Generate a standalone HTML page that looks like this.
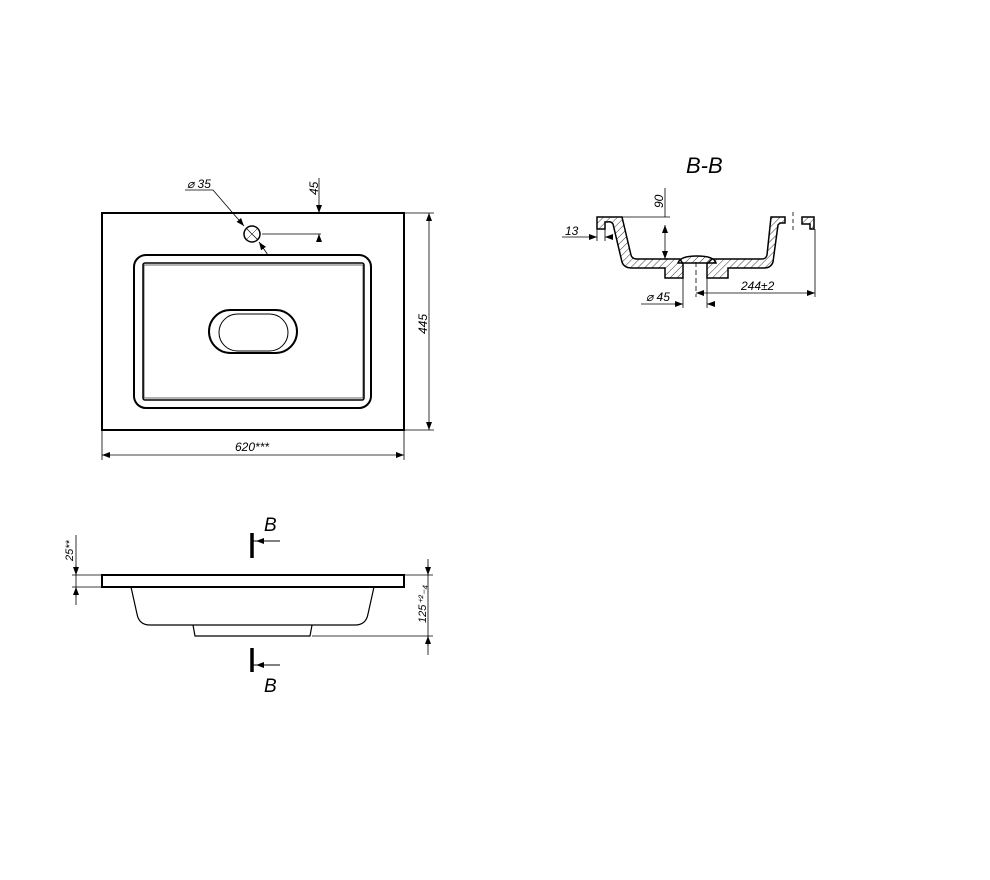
<!DOCTYPE html>
<html><head><style>body{margin:0;background:#fff}svg{display:block}text{font-family:"Liberation Sans",sans-serif;font-style:italic;fill:#000}</style></head><body>
<svg width="990" height="880" viewBox="0 0 990 880" xmlns="http://www.w3.org/2000/svg">
<defs>
<pattern id="h" width="5" height="5" patternUnits="userSpaceOnUse" patternTransform="rotate(45)"><line x1="0" y1="0" x2="0" y2="5" stroke="#000" stroke-width="0.8"/></pattern>
<marker id="a" markerWidth="8" markerHeight="6" refX="8" refY="3" orient="auto-start-reverse" markerUnits="userSpaceOnUse"><path d="M0,0 L8,3 L0,6 Z" fill="#000"/></marker>
</defs>
<g fill="none" stroke="#000">
<rect x="102" y="213" width="302" height="217" stroke-width="2"/>
<rect x="134" y="255" width="237" height="153" rx="12" stroke-width="2"/>
<rect x="143" y="263" width="221" height="137" rx="2" stroke-width="1.5"/>
<rect x="144" y="265" width="219" height="133" stroke-width="0.6"/>
<rect x="209" y="310" width="88" height="43" rx="21.5" stroke-width="2"/>
<rect x="219" y="314" width="69" height="37" rx="18.5" stroke-width="1"/>
<circle cx="252" cy="234" r="8" stroke-width="1.5"/>
<line x1="246" y1="228" x2="258" y2="240" stroke-width="0.7"/>
<line x1="258" y1="228" x2="246" y2="240" stroke-width="0.5"/>
<path d="M185,190 H213 L244,226" stroke-width="0.8" marker-end="url(#a)"/>
<path d="M268,255 L259,242" stroke-width="0.8" marker-end="url(#a)"/>
<path d="M262,234 H321 M319,178 V213 M319,234 V237" stroke-width="0.8"/>
<line x1="319" y1="205" x2="319" y2="213" stroke-width="0.8" marker-end="url(#a)"/>
<line x1="319" y1="242" x2="319" y2="234" stroke-width="0.8" marker-end="url(#a)"/>
<path d="M404,213 H434 M404,430 H434 M102,430 V460 M404,430 V460" stroke-width="0.8"/>
<line x1="429" y1="213" x2="429" y2="430" stroke-width="0.8" marker-start="url(#a)" marker-end="url(#a)"/>
<line x1="102" y1="455" x2="404" y2="455" stroke-width="0.8" marker-start="url(#a)" marker-end="url(#a)"/>
<rect x="102" y="575" width="302" height="12" stroke-width="2"/>
<path d="M131,587 L137,614 Q139,625 150,625 H355 Q366,625 368,614 L374,587" stroke-width="1.2"/>
<path d="M193,625 L195,636 H310 L312,625" stroke-width="1.2"/>
<path d="M252,533 V558 M252,648 V672" stroke-width="3.5"/>
<path d="M252,541 H256 M252,665 H256" stroke-width="1"/>
<line x1="280" y1="541" x2="256" y2="541" stroke-width="1" marker-end="url(#a)"/>
<line x1="280" y1="665" x2="256" y2="665" stroke-width="1" marker-end="url(#a)"/>
<path d="M72,575 H102 M72,587 H102 M76,535 V605 M404,575 H433 M312,636 H433 M428,559 V655" stroke-width="0.8"/>
<line x1="76" y1="565" x2="76" y2="575" stroke-width="0.8" marker-end="url(#a)"/>
<line x1="76" y1="597" x2="76" y2="587" stroke-width="0.8" marker-end="url(#a)"/>
<line x1="428" y1="565" x2="428" y2="575" stroke-width="0.8" marker-end="url(#a)"/>
<line x1="428" y1="646" x2="428" y2="636" stroke-width="0.8" marker-end="url(#a)"/>
<path d="M597,217 H622 L631,255 Q632,259 637,259 H680 L683,264 V278 H665 V268 H632 Q624,268 622,262 L613,224 Q611,221 607,222 L605,222 V229 H597 Z" fill="url(#h)" stroke-width="1.5"/>
<path d="M707,278 V264 L712,259 H762 Q766,259 767,255 L771,217 H785 V223 H780 L778,225 L773,262 Q771,268 764,268 H728 V278 Z" fill="url(#h)" stroke-width="1.5"/>
<path d="M678,263 Q680,256 697,256 Q714,256 716,263 Z" fill="url(#h)" stroke-width="1.5"/>
<path d="M802,217 H814 V229 H810 V224 H802 Z" fill="url(#h)" stroke-width="1.5"/>
<path d="M793,212 V232" stroke-width="0.8" stroke-dasharray="4,3"/>
<path d="M696,262 V297" stroke-width="0.8" stroke-dasharray="5,3"/>
<path d="M622,217 H670 M665,188 V217 M597,229 V241 M605,229 V241 M562,237 H590 M683,278 V308 M707,278 V308 M641,304 H676 M815,229 V297" stroke-width="0.8"/>
<line x1="665" y1="225" x2="665" y2="259" stroke-width="0.8" marker-start="url(#a)" marker-end="url(#a)"/>
<line x1="589" y1="237" x2="597" y2="237" stroke-width="0.8" marker-end="url(#a)"/>
<line x1="613" y1="237" x2="605" y2="237" stroke-width="0.8" marker-end="url(#a)"/>
<line x1="675" y1="304" x2="683" y2="304" stroke-width="0.8" marker-end="url(#a)"/>
<line x1="715" y1="304" x2="707" y2="304" stroke-width="0.8" marker-end="url(#a)"/>
<line x1="696" y1="293" x2="815" y2="293" stroke-width="0.8" marker-start="url(#a)" marker-end="url(#a)"/>
</g>
<text x="187" y="188" font-size="12">⌀ 35</text>
<text transform="translate(318,195) rotate(-90)" font-size="12">45</text>
<text transform="translate(427,334) rotate(-90)" font-size="12">445</text>
<text x="235" y="451" font-size="12">620***</text>
<text x="264" y="531" font-size="19">B</text>
<text x="264" y="692" font-size="19">B</text>
<text transform="translate(73,561) rotate(-90)" font-size="11">25**</text>
<text transform="translate(426,623) rotate(-90)" font-size="11">125⁺²₋₄</text>
<text x="686" y="173" font-size="22">B-B</text>
<text transform="translate(663,208) rotate(-90)" font-size="12">90</text>
<text x="565" y="235" font-size="12">13</text>
<text x="646" y="301" font-size="12">⌀ 45</text>
<text x="741" y="290" font-size="12">244±2</text>
</svg>
</body></html>
